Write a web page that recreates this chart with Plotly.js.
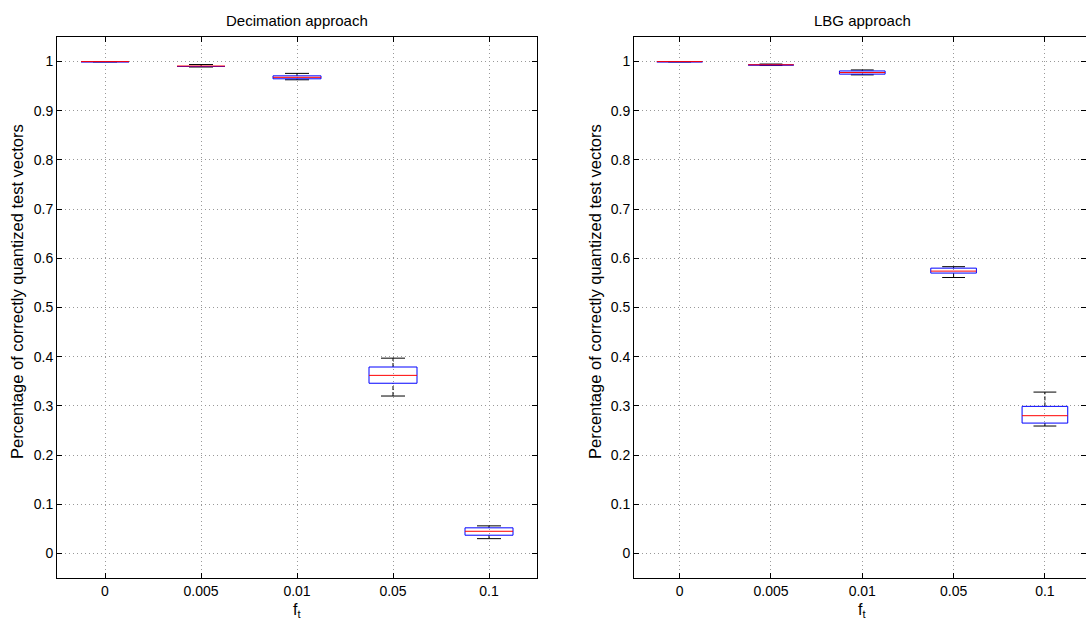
<!DOCTYPE html>
<html>
<head>
<meta charset="utf-8">
<script src="https://cdn.plot.ly/plotly-3.0.1.min.js"></script>
<style>html,body{margin:0;padding:0;background:#fff;}#chart{width:1086px;height:625px;}</style>
</head>
<body>
<div id="chart"></div>
<script>
// Categories (f_t values)
const categories = ['0', '0.005', '0.01', '0.05', '0.1'];
const yTickVals = [0, 0.1, 0.2, 0.3, 0.4, 0.5, 0.6, 0.7, 0.8, 0.9, 1];
const yTickText = ['0', '0.1', '0.2', '0.3', '0.4', '0.5', '0.6', '0.7', '0.8', '0.9', '1'];

// Decimation approach box statistics
const decMin = [0.9995, 0.989, 0.963, 0.320, 0.030];
const decQ1  = [0.9995, 0.990, 0.965, 0.346, 0.037];
const decMed = [1.000, 0.991, 0.968, 0.362, 0.045];
const decQ3  = [1.000, 0.9915, 0.971, 0.379, 0.052];
const decMax = [1.000, 0.994, 0.976, 0.397, 0.056];

// LBG approach box statistics
const lbgMin = [0.9995, 0.992, 0.973, 0.561, 0.259];
const lbgQ1  = [0.9995, 0.993, 0.9745, 0.570, 0.265];
const lbgMed = [1.000, 0.9935, 0.9777, 0.574, 0.280];
const lbgQ3  = [1.000, 0.994, 0.981, 0.580, 0.299];
const lbgMax = [1.000, 0.995, 0.983, 0.583, 0.328];

const BOX_HALF = 0.25, CAP_HALF = 0.125;

function boxTraces(mins, q1s, meds, q3s, maxs, xa, ya) {
  const wx = [], wy = [], cx = [], cy = [], bx = [], by = [], mx = [], my = [];
  categories.forEach((c, k) => {
    const p = k + 1;
    wx.push(p, p, null, p, p, null);
    wy.push(q3s[k], maxs[k], null, mins[k], q1s[k], null);
    cx.push(p - CAP_HALF, p + CAP_HALF, null, p - CAP_HALF, p + CAP_HALF, null);
    cy.push(maxs[k], maxs[k], null, mins[k], mins[k], null);
    bx.push(p - BOX_HALF, p + BOX_HALF, p + BOX_HALF, p - BOX_HALF, p - BOX_HALF, null);
    by.push(q1s[k], q1s[k], q3s[k], q3s[k], q1s[k], null);
    mx.push(p - BOX_HALF, p + BOX_HALF, null);
    my.push(meds[k], meds[k], null);
  });
  const base = {type: 'scatter', mode: 'lines', xaxis: xa, yaxis: ya, hoverinfo: 'skip', showlegend: false};
  return [
    Object.assign({}, base, {x: wx, y: wy, line: {color: '#000', width: 1, dash: '4px,2px'}}),
    Object.assign({}, base, {x: cx, y: cy, line: {color: '#000', width: 1}}),
    Object.assign({}, base, {x: bx, y: by, line: {color: '#0000ff', width: 1}}),
    Object.assign({}, base, {x: mx, y: my, line: {color: '#ff0000', width: 1}})
  ];
}

const data = [].concat(
  boxTraces(decMin, decQ1, decMed, decQ3, decMax, 'x', 'y'),
  boxTraces(lbgMin, lbgQ1, lbgMed, lbgQ3, lbgMax, 'x2', 'y2')
);

const FONT = 'Liberation Sans, Arial, Helvetica, sans-serif';
const tickVals = categories.map((c, k) => k + 1);

function xAxis(domain, range, anchor) {
  return {
    domain: domain, range: range, anchor: anchor,
    tickmode: 'array', tickvals: tickVals, ticktext: categories,
    ticks: 'inside', ticklen: 5, tickcolor: '#000', mirror: 'allticks',
    showline: true, linecolor: '#000', linewidth: 1,
    showgrid: true, gridcolor: '#999999', griddash: '1px,3px', gridwidth: 1,
    zeroline: false, tickfont: {family: FONT, size: 14, color: '#000'}, fixedrange: true
  };
}
function yAxis(anchor) {
  return {
    domain: [47 / 625, 588 / 625], range: [-0.05, 1.05], anchor: anchor,
    tickmode: 'array', tickvals: yTickVals, ticktext: yTickText,
    ticks: 'inside', ticklen: 5, tickcolor: '#000', mirror: 'allticks',
    showline: true, linecolor: '#000', linewidth: 1,
    showgrid: true, gridcolor: '#999999', griddash: '1px,3px', gridwidth: 1,
    zeroline: false, tickfont: {family: FONT, size: 14, color: '#000'}, fixedrange: true
  };
}

const layout = {
  width: 1086, height: 625,
  margin: {l: 0, r: 0, t: 0, b: 0},
  paper_bgcolor: '#fff', plot_bgcolor: '#fff',
  font: {family: FONT, color: '#000'},
  xaxis: xAxis([57 / 1086, 537 / 1086], [0.5, 5.5], 'y'),
  yaxis: yAxis('x'),
  xaxis2: xAxis([634 / 1086, 1], [0.5, 5.45], 'y2'),
  yaxis2: yAxis('x2'),
  annotations: [
    {text: 'Decimation approach', xref: 'paper', yref: 'paper', x: 297 / 1086, y: 1 - 20 / 625, xanchor: 'center', yanchor: 'middle', showarrow: false, font: {family: FONT, size: 15}},
    {text: 'LBG approach', xref: 'paper', yref: 'paper', x: 862 / 1086, y: 1 - 20 / 625, xanchor: 'center', yanchor: 'middle', showarrow: false, font: {family: FONT, size: 15}},
    {text: 'f<sub>t</sub>', xref: 'paper', yref: 'paper', x: 297 / 1086, y: 1 - 610 / 625, xanchor: 'center', yanchor: 'middle', showarrow: false, font: {family: FONT, size: 16}},
    {text: 'f<sub>t</sub>', xref: 'paper', yref: 'paper', x: 862 / 1086, y: 1 - 610 / 625, xanchor: 'center', yanchor: 'middle', showarrow: false, font: {family: FONT, size: 16}},
    {text: 'Percentage of correctly quantized test vectors', xref: 'paper', yref: 'paper', x: 17 / 1086, y: 1 - 292 / 625, xanchor: 'center', yanchor: 'middle', textangle: -90, showarrow: false, font: {family: FONT, size: 16.5}},
    {text: 'Percentage of correctly quantized test vectors', xref: 'paper', yref: 'paper', x: 595 / 1086, y: 1 - 292 / 625, xanchor: 'center', yanchor: 'middle', textangle: -90, showarrow: false, font: {family: FONT, size: 16.5}}
  ]
};

Plotly.newPlot('chart', data, layout, {staticPlot: true, displayModeBar: false});
</script>
</body>
</html>
